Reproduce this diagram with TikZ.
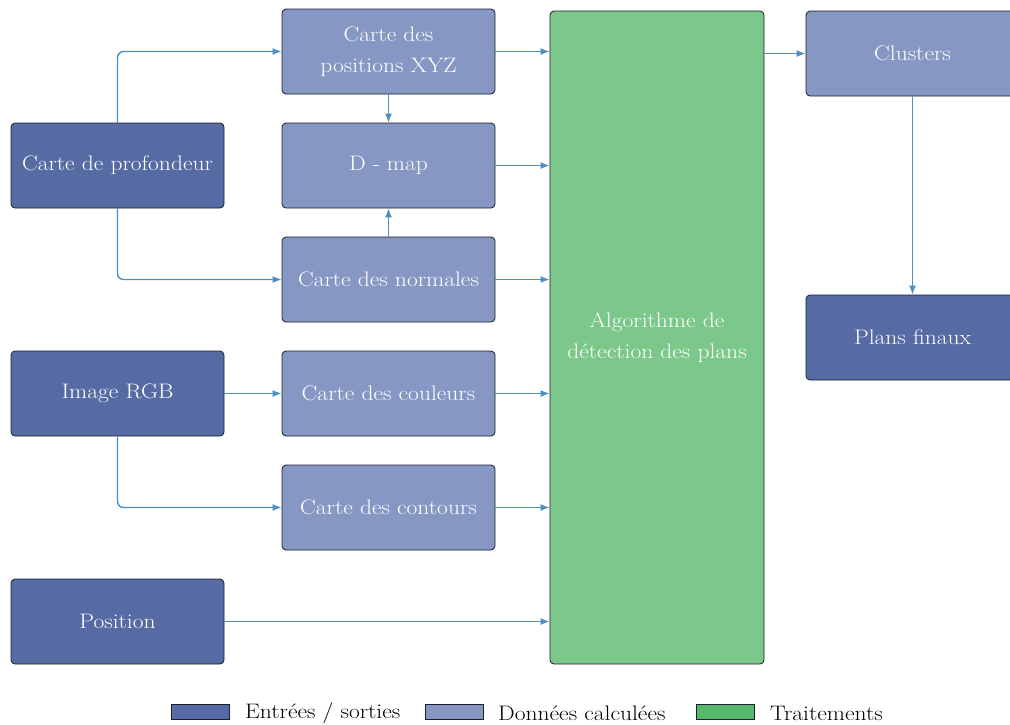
\documentclass[tikz,border=0pt]{standalone}
\usepackage{fontspec}
\setmainfont{Latin Modern Roman}[FakeStretch=1.12]
\usetikzlibrary{arrows.meta}
\definecolor{ioblue}{HTML}{566BA3}
\definecolor{datablue}{HTML}{8697C4}
\definecolor{procgreen}{HTML}{7BC88A}
\definecolor{legendgreen}{HTML}{55B86B}
\definecolor{arrowblue}{HTML}{4D8FC1}
\definecolor{boxborder}{HTML}{1A1F2A}
\tikzset{
  basebox/.style={rectangle, rounded corners=4pt, draw=boxborder, line width=0.8pt,
    minimum width=213pt, minimum height=85pt, text=white, align=center, inner sep=0pt,
    font=\fontsize{21}{31}\selectfont},
  iobox/.style={basebox, fill=ioblue},
  databox/.style={basebox, fill=datablue},
  procbox/.style={basebox, fill=procgreen, minimum width=214pt, minimum height=653pt},
  conn/.style={draw=arrowblue, line width=1.4pt, rounded corners=6pt, -{Latex[length=9pt,width=7pt]}},
  swatch/.style={rectangle, draw=boxborder, line width=0.8pt, minimum width=58pt, minimum height=15pt, inner sep=0pt},
  legtext/.style={anchor=west, inner sep=0pt, font=\fontsize{21}{31}\selectfont, text=black}
}
\begin{document}
\begin{tikzpicture}[x=1pt,y=-1pt]
\clip (0,0) rectangle (1010,724);
\fill[white] (0,0) rectangle (1010,724);
% inputs
\node[iobox] (prof) at (117.5,165.5) {Carte de profondeur};
\node[iobox] (rgb) at (117.5,393.5) {Image RGB};
\node[iobox] (pos) at (117.5,621.5) {Position};
% computed data
\node[databox] (xyz) at (388.5,51.5) {Carte des\\positions XYZ};
\node[databox] (dmap) at (388.5,165.5) {D - map};
\node[databox] (norm) at (388.5,279.5) {Carte des normales};
\node[databox] (coul) at (388.5,393.5) {Carte des couleurs};
\node[databox] (cont) at (388.5,507.5) {Carte des contours};
% processing
\node[procbox] (algo) at (657,337.5) {Algorithme de\\détection des plans};
% outputs
\node[databox] (clus) at (912.5,53.5) {Clusters};
\node[iobox] (plans) at (912.5,337.5) {Plans finaux};
% connectors
\draw[conn] (prof.north) |- (xyz.west);
\draw[conn] (prof.south) |- (norm.west);
\draw[conn] (xyz.south) -- (dmap.north);
\draw[conn] (norm.north) -- (dmap.south);
\draw[conn] (rgb.east) -- (coul.west);
\draw[conn] (rgb.south) |- (cont.west);
\foreach \n in {xyz,dmap,norm,coul,cont,pos}
  \draw[conn] (\n.east) -- (\n.east -| algo.west);
\draw[conn] (clus.west -| algo.east) -- (clus.west);
\draw[conn] (clus.south -| plans.north) -- (plans.north);
% legend
\node[swatch, fill=ioblue] (sw1) at (200,711.5) {};
\node[legtext] (lt1) at (245,713) {Entrées / sorties};
\node[swatch, fill=datablue] (sw2) at (454,711.5) {};
\node[legtext] (lt2) at (498,713) {Données calculées};
\node[swatch, fill=legendgreen] (sw3) at (725.5,711.5) {};
\node[legtext] (lt3) at (770,713) {Traitements};
\end{tikzpicture}
\end{document}
